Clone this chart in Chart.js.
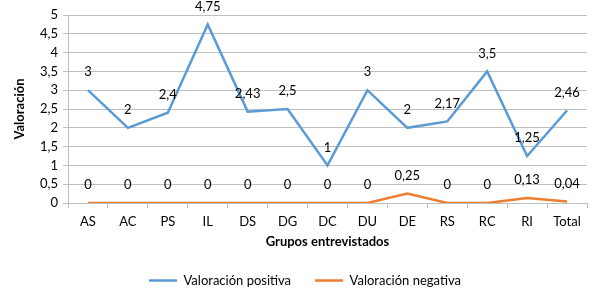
<!DOCTYPE html>
<html>
<head>
<meta charset="utf-8">
<script src="https://cdn.jsdelivr.net/npm/chart.js@4"></script>
<style>
  html, body { margin: 0; padding: 0; background: #fff; }
  #wrap { width: 602px; height: 301px; }
</style>
</head>
<body>
<div id="wrap"><canvas id="chart" width="602" height="301"></canvas></div>
<script>
const categories = ['AS', 'AC', 'PS', 'IL', 'DS', 'DG', 'DC', 'DU', 'DE', 'RS', 'RC', 'RI', 'Total'];
const positiva = [3, 2, 2.4, 4.75, 2.43, 2.5, 1, 3, 2, 2.17, 3.5, 1.25, 2.46];
const negativa = [0, 0, 0, 0, 0, 0, 0, 0, 0.25, 0, 0, 0.13, 0.04];

const fmt = v => String(v).replace('.', ',');

// simple data labels above each point
const pointLabels = {
  id: 'pointLabels',
  afterDatasetsDraw(chart) {
    const ctx = chart.ctx;
    ctx.save();
    ctx.font = '13px Lato';
    ctx.fillStyle = '#000';
    ctx.textAlign = 'center';
    ctx.textBaseline = 'middle';
    chart.data.datasets.forEach((ds, i) => {
      chart.getDatasetMeta(i).data.forEach((pt, j) => {
        ctx.fillText(fmt(ds.data[j]), pt.x, pt.y - 18);
      });
    });
    ctx.restore();
  }
};

Chart.defaults.font.family = 'Lato';
Chart.defaults.font.size = 13;
Chart.defaults.color = '#000';

new Chart(document.getElementById('chart'), {
  type: 'line',
  data: {
    labels: categories,
    datasets: [{
      label: 'Valoración positiva',
      data: positiva,
      borderColor: '#5b9bd5',
      backgroundColor: '#5b9bd5',
      borderWidth: 2.5,
      pointRadius: 0,
      tension: 0
    }, {
      label: 'Valoración negativa',
      data: negativa,
      borderColor: '#ed7d31',
      backgroundColor: '#ed7d31',
      borderWidth: 2.5,
      pointRadius: 0,
      tension: 0
    }]
  },
  options: {
    responsive: false,
    animation: false,
    layout: { padding: { top: 15, right: 0, left: 8, bottom: 4 } },
    plugins: {
      tooltip: { enabled: false },
      legend: {
        position: 'bottom',
        labels: {
          usePointStyle: true,
          pointStyle: 'line',
          pointStyleWidth: 28,
          padding: 24,
          font: { size: 13 }
        }
      }
    },
    scales: {
      x: {
        offset: true,
        afterFit: s => { s.height = 47; },
        grid: {
          offset: true,
          drawOnChartArea: false,
          drawTicks: true,
          tickLength: 5,
          color: '#bfbfbf'
        },
        border: { color: '#bfbfbf' },
        ticks: { padding: 6, maxRotation: 0, autoSkip: false },
        title: {
          display: true,
          text: 'Grupos entrevistados',
          font: { weight: 'bold', size: 13 },
          padding: { top: 2, bottom: 0 }
        }
      },
      y: {
        min: 0,
        max: 5,
        afterFit: s => { s.width = 60; },
        grid: { color: '#bfbfbf', tickLength: 5 },
        border: { color: '#bfbfbf' },
        ticks: {
          stepSize: 0.5,
          autoSkip: false,
          padding: 5,
          callback: v => fmt(v)
        },
        title: {
          display: true,
          text: 'Valoración',
          font: { weight: 'bold', size: 13 }
        }
      },
      // empty right axis, only keeps a margin so the legend stays centred
      yRight: {
        position: 'right',
        afterFit: s => { s.width = 15; },
        grid: { display: false, drawOnChartArea: false },
        border: { display: false },
        ticks: { display: false }
      }
    }
  },
  plugins: [pointLabels]
});
</script>
</body>
</html>
